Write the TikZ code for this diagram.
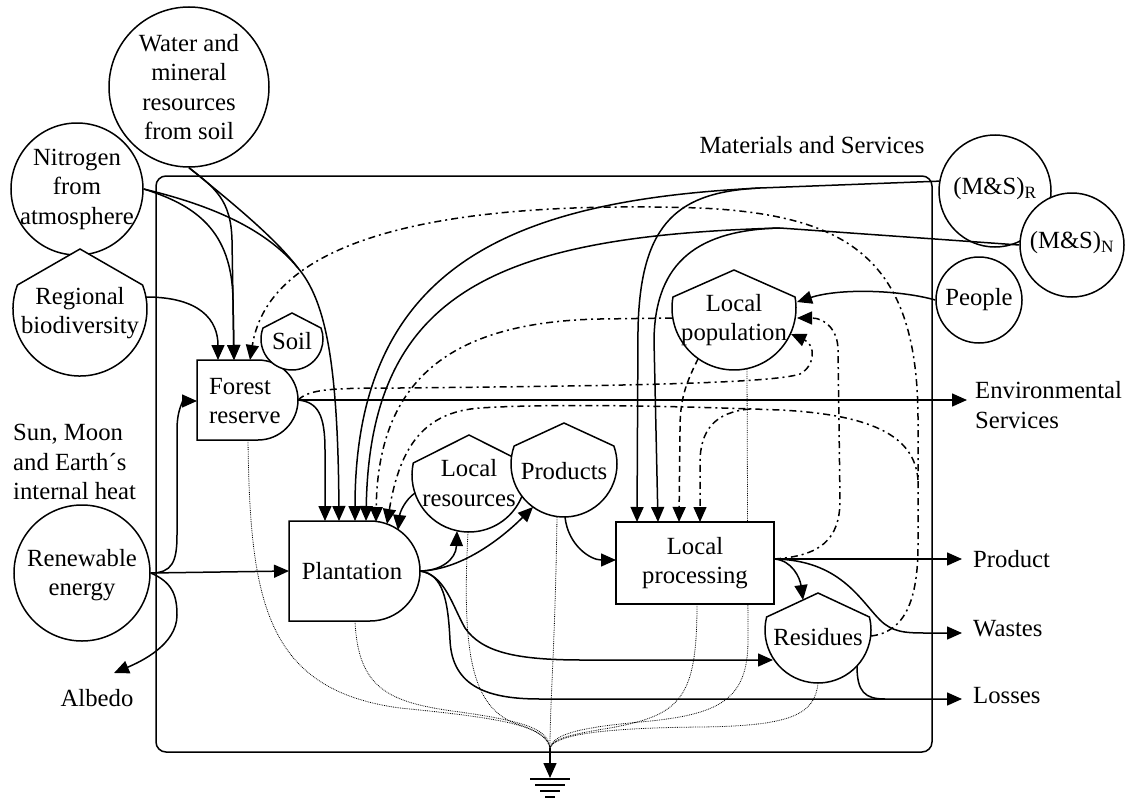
\documentclass[tikz,border=0pt]{standalone}
\usepackage{fontspec}
\setmainfont{Liberation Serif}
\usetikzlibrary{arrows.meta,calc}
\begin{document}
\begin{tikzpicture}[x=1pt,y=-1pt,
  every node/.style={font=\fontsize{24.7}{29.5}\selectfont, inner sep=0pt, align=center},
  outline/.style={line width=1.5pt, line join=miter},
  src/.style={circle, draw, line width=1.5pt, fill=white, inner sep=0pt},
  flow/.style={line width=1.5pt, -{Triangle[length=15pt,width=13pt]}},
  plain/.style={line width=1.5pt},
  dashdot/.style={dash pattern=on 7pt off 4pt on 2pt off 4pt},
  dashline/.style={dash pattern=on 6pt off 4pt},
  sink/.style={line width=0.8pt, densely dotted, black},
  pics/dome/.style n args={3}{code={
    \draw[outline, fill=white] (0,-#2) -- ({180+asin(#3/#1)}:#1)
      arc[start angle={180+asin(#3/#1)}, end angle={-asin(#3/#1)}, radius=#1] -- cycle;
  }},
]
\useasboundingbox (0,0) rectangle (1132,800);

% system boundary
\draw[plain, rounded corners=10pt] (156,176) rectangle (932,752);

% ports
\coordinate (bd-e) at (146,297);
\coordinate (fr-n1) at (218,360);
\coordinate (fr-n2) at (234,360);
\coordinate (fr-n3) at (250,360);
\coordinate (fr-w) at (197,401);
\coordinate (fr-e) at (298,400);
\coordinate (fr-s) at (248,440);
\coordinate (pl-n1) at (325,521);
\coordinate (pl-n2) at (339,521);
\coordinate (pl-n3) at (355,521);
\coordinate (pl-n4) at (366,521);
\coordinate (pl-n5) at (376,522);
\coordinate (pl-n6) at (387,524);
\coordinate (pl-ne) at (398,530);
\coordinate (pl-w) at (289,571);
\coordinate (pl-e) at (420,571);
\coordinate (pl-s) at (355,621);
\coordinate (lp-n1) at (637,522);
\coordinate (lp-n2) at (658,522);
\coordinate (lp-n3) at (679,522);
\coordinate (lp-n4) at (700,522);
\coordinate (lp-w) at (616,560);
\coordinate (lp-e) at (774,559);
\coordinate (lp-s) at (697,604);
\coordinate (lr-w) at (415,493);
\coordinate (lr-s) at (457,531);
\coordinate (lr-s2) at (468,532);
\coordinate (pr-sw) at (533,507);
\coordinate (pr-s) at (565,517);
\coordinate (pr-s2) at (557,517);
\coordinate (pop-e1) at (797,302);
\coordinate (pop-e2) at (797,318);
\coordinate (pop-e3) at (791,334);
\coordinate (pop-w) at (672,318);
\coordinate (pop-sw) at (698,359);
\coordinate (pop-s) at (747,369);
\coordinate (rs-nw) at (803,600);
\coordinate (rs-w) at (773,660);
\coordinate (rs-e) at (871,636);
\coordinate (rs-se) at (857,666);
\coordinate (rs-s) at (818,683);
\coordinate (gnd) at (550,748);
\coordinate (gnd-tip) at (550,778);
\coordinate (env-tip) at (967,400);
\coordinate (prod-tip) at (962,559);
\coordinate (waste-tip) at (962,633);
\coordinate (loss-tip) at (962,699);
\coordinate (albedo-tip) at (114,673);
\coordinate (wn-j) at (298,268);
\coordinate (msr-j) at (760,188);
\coordinate (msn-j) at (780,228);
\coordinate (res-j) at (918,480);
\coordinate (res-k) at (750,409);

% heat sink pathways
\draw[sink] (fr-s) .. controls (250,600) and (265,690) .. (400,708) .. controls (500,718) and (545,725) .. (gnd);
\draw[sink] (pl-s) .. controls (358,690) and (390,703) .. (460,712) .. controls (530,722) and (548,730) .. (gnd);
\draw[sink] (lr-s2) .. controls (462,650) and (470,710) .. (520,725) .. controls (540,732) and (548,738) .. (gnd);
\draw[sink] (pr-s2) .. controls (555,650) and (550,700) .. (gnd);
\draw[sink] (lp-s) .. controls (697,700) and (680,715) .. (610,728) .. controls (565,735) and (552,740) .. (gnd);
\draw[sink] (pop-s) -- (748,640) .. controls (748,700) and (720,715) .. (640,722) .. controls (575,728) and (553,735) .. (gnd);
\draw[sink] (rs-s) .. controls (815,715) and (790,726) .. (700,727) .. controls (600,728) and (555,735) .. (gnd);

% sources
\node[src, minimum size=160pt] (water) at (189,87) {};
\node[src, minimum size=132pt] (nitro) at (77,189) {};
\node[src, minimum size=136pt] (renew) at (82,573) {};
\node[src, minimum size=112pt] (msr) at (995,191) {};
\node[src, minimum size=104pt] (msn) at (1072,245) {};
\node[src, minimum size=86pt] (people) at (979,300) {};

% storages and consumers
\pic at (80,309) {dome={67}{60}{24}};
\draw[outline, fill=white] (197,360) -- (258,360) arc[start angle=-90, end angle=90, radius=40] -- (197,440) -- cycle;
\pic at (292,339) {dome={31}{26}{11}};
\draw[outline, fill=white] (289,521) -- (370,521) arc[start angle=-90, end angle=90, radius=50] -- (289,621) -- cycle;
\pic at (469,475) {dome={57}{40}{12}};
\pic at (564,464) {dome={53}{41}{18}};
\pic at (734,308) {dome={62}{38}{11}};
\draw[outline, fill=white] (616,522) rectangle (774,604);
\pic at (818,630) {dome={53}{37}{13}};

% inflows to forest reserve
\draw[flow] (water.south) .. controls (215,188) and (231,200) .. (232,240) -- (fr-n2);
\draw[flow] (nitro.east) .. controls (195,205) and (232,230) .. (233,300) -- (fr-n2);
\draw[flow] (bd-e) .. controls (200,297) and (218,320) .. (fr-n1);
\draw[flow] (renew.east) .. controls (172,573) and (177,562) .. (177,535) -- (177,430) .. controls (177,408) and (184,401) .. (fr-w);

% inflows to plantation
\draw[plain] (water.south) .. controls (235,205) and (275,238) .. (wn-j);
\draw[plain] (nitro.east) .. controls (210,205) and (265,228) .. (wn-j);
\draw[flow] (wn-j) .. controls (325,300) and (338,360) .. (pl-n2);
\draw[flow] (renew.east) -- (pl-w);
\draw[flow] (fr-e) .. controls (318,402) and (325,415) .. (325,450) -- (pl-n1);
\draw[flow] (msr.170) -- (msr-j) .. controls (520,200) and (355,260) .. (pl-n3);
\draw[flow] (msn.west) -- (msn-j) .. controls (500,236) and (370,290) .. (pl-n4);
\draw[flow] (lr-w) .. controls (405,500) and (400,512) .. (pl-ne);

% purchased inputs to local processing
\draw[flow] (msr-j) .. controls (680,192) and (640,220) .. (638,330) -- (lp-n1);
\draw[flow] (msn-j) .. controls (700,230) and (655,260) .. (654,340) -- (lp-n2);

% albedo and environmental services
\draw[flow] (renew.east) .. controls (172,582) and (177,595) .. (177,615) .. controls (177,645) and (140,662) .. (albedo-tip);
\draw[flow] (fr-e) -- (env-tip);

% people
\draw[flow] (people.west) .. controls (900,290) and (840,288) .. (pop-e1);

% plantation outputs
\draw[flow] (pl-e) .. controls (440,571) and (456,560) .. (lr-s);
\draw[flow] (pl-e) .. controls (460,570) and (500,540) .. (pr-sw);
\draw[flow] (pr-s) .. controls (568,545) and (590,560) .. (lp-w);
\draw[flow] (pl-e) .. controls (445,575) and (452,605) .. (465,628) .. controls (482,652) and (515,660) .. (583,660) -- (rs-w);
\draw[flow] (pl-e) .. controls (443,574) and (448,600) .. (450,640) .. controls (452,688) and (490,699) .. (540,699) -- (loss-tip);
\draw[plain] (rs-se) .. controls (857,692) and (865,699) .. (885,699);

% local processing outputs
\draw[flow] (lp-e) -- (prod-tip);
\draw[flow] (lp-e) .. controls (792,560) and (800,578) .. (rs-nw);
\draw[flow] (lp-e) .. controls (840,560) and (860,600) .. (880,620) .. controls (892,632) and (905,633) .. (925,633) -- (waste-tip);

% feedbacks
\draw[flow, dashdot] (rs-e) .. controls (905,632) and (918,600) .. (918,545) -- (918,420) .. controls (918,260) and (850,215) .. (700,208) .. controls (450,200) and (270,235) .. (fr-n3);
\draw[flow, dashdot] (res-j) .. controls (915,440) and (880,415) .. (780,410) .. controls (650,405) and (540,404) .. (480,408) .. controls (425,412) and (400,445) .. (pl-n6);
\draw[flow, dashdot] (res-k) .. controls (715,412) and (700,430) .. (700,463) -- (lp-n4);
\draw[flow, dashdot] (fr-e) .. controls (310,389) and (330,388) .. (400,388) .. controls (600,386) and (770,384) .. (800,374) .. controls (815,366) and (816,345) .. (pop-e3);
\draw[flow, dashdot] (lp-e) .. controls (820,556) and (840,540) .. (840,500) -- (838,350) .. controls (838,330) and (825,318) .. (pop-e2);
\draw[flow, dashdot] (pop-w) -- (600,319) .. controls (450,322) and (378,380) .. (pl-n5);
\draw[flow, dashline] (pop-sw) .. controls (685,385) and (680,400) .. (680,430) -- (lp-n3);

% heat sink
\draw[flow] (gnd) -- (gnd-tip);
\draw[line width=1.2pt] (530,779) -- (570,779) (535,785) -- (565,785) (540,791) -- (560,791) (545,797) -- (555,797);

% labels
\node (water-t) at (189,87) {Water and\\mineral\\resources\\from soil};
\node (nitro-t) at (77,189) {Nitrogen\\from\\atmosphere};
\node (renew-t) at (82,575) {Renewable\\energy};
\node (msr-t) at (995,189) {(M\&S)\textsubscript{R}};
\node (msn-t) at (1072,243) {(M\&S)\textsubscript{N}};
\node (people-t) at (979,300) {People};
\node (bd-t) at (80,313) {Regional\\biodiversity};
\node[anchor=west, align=left] (forest) at (209,401) {Forest\\reserve};
\node (soil) at (292,341) {Soil};
\node (plant) at (352,571) {Plantation};
\node (locres) at (469,483) {Local\\resources};
\node (products) at (564,471) {Products};
\node (locpop) at (734,320) {Local\\population};
\node (locproc) at (695,563) {Local\\processing};
\node (residues) at (818,637) {Residues};
\node (ms) at (812,145) {Materials and Services};
\node[anchor=west, align=left] (env) at (975,405) {Environmental\\Services};
\node[anchor=west] (product) at (973,559) {Product};
\node[anchor=west] (wastes) at (973,629) {Wastes};
\node[anchor=west] (losses) at (973,696) {Losses};
\node (albedo) at (97,698) {Albedo};
\node[anchor=west, align=left] (sun) at (13,462) {Sun, Moon\\and Earth´s\\internal heat};
\end{tikzpicture}
\end{document}
